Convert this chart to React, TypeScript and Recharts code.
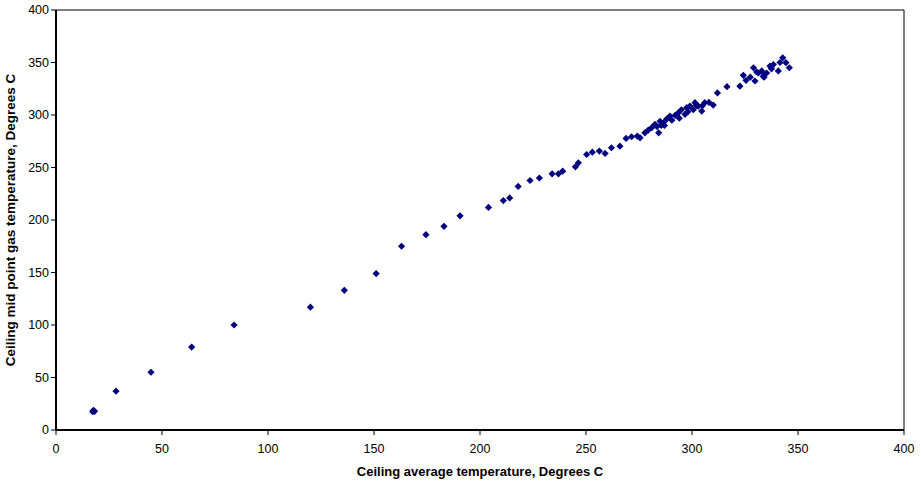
import React from "react";
import { ScatterChart, Scatter, XAxis, YAxis, ReferenceLine, Label } from "recharts";

const ceilingAvg = [
  17.3, 17.8, 18.2, 17.6, 28.3, 44.8, 64, 84, 120, 136, 151, 163, 174.5, 183, 190.6, 204, 211, 214, 218, 223.6,
  228, 234, 237, 239, 245, 246.4, 250.3, 253, 256.3, 259, 262, 266, 268.9, 271.5, 274.2, 275.5, 277.8, 279.4, 281,
  282.5, 284.3, 284.9, 286.5, 288, 289.6, 292, 293.5, 295, 296.7, 297.5, 299, 300.6, 301.4, 303, 304.6, 306, 310,
  312, 316.5, 322.6, 324.2, 325.5, 329, 329.7, 331.3, 332.9, 333.6, 335.2, 336.8, 338.4, 340.7, 342.8, 344.3, 345.9,
  283.5, 285.5, 287, 290.5, 294, 298, 302, 305, 308, 327.5, 330.5, 334, 337.5, 341.5,
];
const midPointGas = [
  17.5, 18.3, 17.8, 18.6, 37, 55, 79, 100, 117, 133, 149, 175, 186, 194, 204, 212, 218.5, 221, 232, 237.6,
  240, 244, 244, 246.5, 250.6, 254.5, 262.4, 264.6, 265.6, 263.4, 268.8, 270.3, 277.7, 279.3, 279.9, 278.3, 283,
  285.6, 287.9, 291, 283, 294, 292.6, 296, 299, 299.6, 302, 305, 300.6, 307, 308.5, 305, 311.7, 308.5, 303.7, 311.7,
  309.5, 321, 327, 327.5, 337.8, 333, 345, 332.4, 340, 342, 337, 340, 346.6, 348, 342, 354.5, 349.8, 345,
  289, 290, 290, 295, 297, 303, 309, 309, 312, 336, 341, 336, 344, 350,
];

const points = ceilingAvg.map((x, i) => ({ x, y: midPointGas[i] }));
const ticks = [0, 50, 100, 150, 200, 250, 300, 350, 400];

const Diamond = (props: any) => {
  const { cx, cy } = props;
  const r = 3.6;
  return (
    <polygon
      points={`${cx},${cy - r} ${cx + r},${cy} ${cx},${cy + r} ${cx - r},${cy}`}
      fill="#000080"
    />
  );
};

const font = "Liberation Sans, Arial, sans-serif";
const tickStyle = { fontSize: 12.5, fill: "#000", fontFamily: font };
const labelStyle = (size: number) =>
  ({
    fontSize: size,
    fontWeight: "bold",
    fill: "#000",
    fontFamily: font,
    textAnchor: "middle",
  }) as const;

export default function App() {
  return (
    <div style={{ position: "absolute", left: 0, top: 0, background: "#fff" }}>
      <ScatterChart width={921} height={482} margin={{ top: 10, right: 17, bottom: 0, left: 0 }}>
        <XAxis
          type="number"
          dataKey="x"
          domain={[0, 400]}
          ticks={ticks}
          height={52}
          tick={tickStyle}
          tickLine={{ stroke: "#000" }}
          tickSize={5}
          tickMargin={9}
          axisLine={{ stroke: "#000", strokeWidth: 2 }}
        >
          <Label value="Ceiling average temperature, Degrees C" position="insideBottom" offset={6} style={labelStyle(13)} />
        </XAxis>
        <YAxis
          type="number"
          dataKey="y"
          domain={[0, 400]}
          ticks={ticks}
          width={56}
          tick={tickStyle}
          tickLine={{ stroke: "#000" }}
          tickSize={5}
          axisLine={{ stroke: "#000", strokeWidth: 2 }}
        >
          <Label
            value="Ceiling mid point gas temperature, Degrees C"
            angle={-90}
            position="insideLeft"
            offset={10}
            style={labelStyle(13.5)}
          />
        </YAxis>
        <ReferenceLine y={400} stroke="#000" strokeWidth={1} />
        <ReferenceLine x={400} stroke="#000" strokeWidth={1} />
        <Scatter data={points} shape={<Diamond />} isAnimationActive={false} />
      </ScatterChart>
    </div>
  );
}
